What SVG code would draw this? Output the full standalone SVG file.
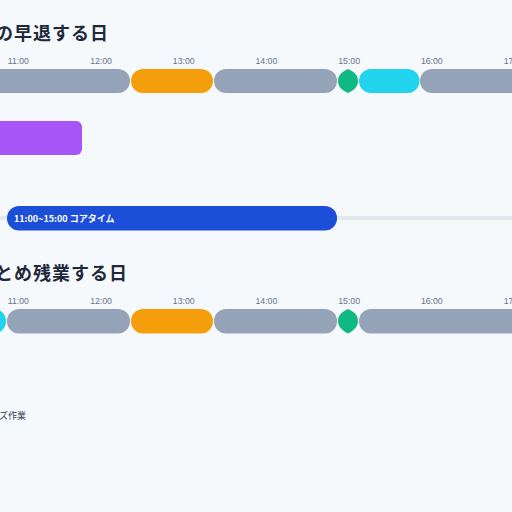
<svg xmlns="http://www.w3.org/2000/svg" width="512" height="512" viewBox="0 0 512 512">
<style>
.title{font-family:"Noto Sans CJK JP","Noto Sans",sans-serif;font-weight:700;font-size:18px;fill:#1e293b;letter-spacing:1px}
.tick{font-family:"Liberation Sans","Noto Sans",sans-serif;font-size:8.7px;fill:#64748b;text-anchor:middle}
.gray{fill:#94a3b8}.orange{fill:#f59e0b}.green{fill:#10b981}.cyan{fill:#22d3ee}
.core{font-family:"Noto Sans CJK JP",sans-serif;font-weight:700;font-size:9px;fill:#ffffff}
.note{font-family:"Noto Sans CJK JP",sans-serif;font-size:9px;fill:#334155}
</style>
<rect width="512" height="512" fill="#f6f9fb"/>

<g id="day1">
  <text class="title" x="-5" y="40">の早退する日</text>
  <g id="ticks1">
    <text class="tick" x="18.3" y="64">11:00</text>
    <text class="tick" x="101" y="64">12:00</text>
    <text class="tick" x="183.7" y="64">13:00</text>
    <text class="tick" x="266.4" y="64">14:00</text>
    <text class="tick" x="349.1" y="64">15:00</text>
    <text class="tick" x="431.8" y="64">16:00</text>
    <text class="tick" x="514.5" y="64">17:00</text>
  </g>
  <g id="bar1">
    <rect class="gray" x="-60" y="69" width="190" height="24" rx="12"/>
    <rect class="orange" x="131" y="69" width="82" height="24" rx="12"/>
    <rect class="gray" x="214" y="69" width="123" height="24" rx="12"/>
    <path class="green" d="M348 69C341 72 338 76 338 81C338 86 341 90 348 93C355 90 358 86 358 81C358 76 355 72 348 69Z"/>
    <rect class="cyan" x="359" y="69" width="60.5" height="24" rx="12"/>
    <rect class="gray" x="420" y="69" width="140" height="24" rx="12"/>
  </g>
</g>

<g id="task">
  <rect x="-20" y="121" width="102" height="34" rx="6" fill="#a855f7"/>
</g>

<g id="coretime">
  <rect x="0" y="216" width="512" height="4" fill="#e2e8f0"/>
  <rect x="7" y="206" width="330" height="24.5" rx="12" fill="#1d4ed8"/>
  <text class="core" x="14" y="222">11:00~15:00 コアタイム</text>
</g>

<g id="day2">
  <text class="title" x="-5" y="280">とめ残業する日</text>
  <g id="ticks2">
    <text class="tick" x="18.3" y="304">11:00</text>
    <text class="tick" x="101" y="304">12:00</text>
    <text class="tick" x="183.7" y="304">13:00</text>
    <text class="tick" x="266.4" y="304">14:00</text>
    <text class="tick" x="349.1" y="304">15:00</text>
    <text class="tick" x="431.8" y="304">16:00</text>
    <text class="tick" x="514.5" y="304">17:00</text>
  </g>
  <g id="bar2">
    <rect class="cyan" x="-60" y="309" width="66" height="24.5" rx="12"/>
    <rect class="gray" x="7" y="309" width="123" height="24.5" rx="12"/>
    <rect class="orange" x="131" y="309" width="82" height="24.5" rx="12"/>
    <rect class="gray" x="214" y="309" width="123" height="24.5" rx="12"/>
    <path class="green" d="M348 309C341 312 338 316 338 321C338 326 341 330 348 333.5C355 330 358 326 358 321C358 316 355 312 348 309Z"/>
    <rect class="gray" x="359" y="309" width="200" height="24.5" rx="12"/>
  </g>
</g>

<g id="legend">
  <text class="note" x="-1" y="419">ズ作業</text>
</g>
</svg>
